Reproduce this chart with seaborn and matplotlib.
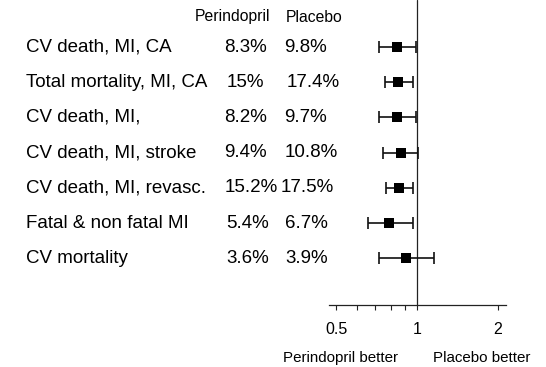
import matplotlib
matplotlib.use("Agg")
import matplotlib.pyplot as plt
import matplotlib.transforms as mtransforms
from matplotlib.ticker import FixedLocator, NullFormatter
import numpy as np
import pandas as pd
import seaborn as sns

# ---- data ----
outcomes = ["CV death, MI, CA", "Total mortality, MI, CA", "CV death, MI,",
            "CV death, MI, stroke", "CV death, MI, revasc.",
            "Fatal & non fatal MI", "CV mortality"]
perindopril_pct = ["8.3%", "15%", "8.2%", "9.4%", "15.2%", "5.4%", "3.6%"]
placebo_pct = ["9.8%", "17.4%", "9.7%", "10.8%", "17.5%", "6.7%", "3.9%"]
ratio = [0.84, 0.85, 0.84, 0.87, 0.86, 0.79, 0.91]
ci_low = [0.72, 0.76, 0.72, 0.75, 0.77, 0.66, 0.72]
ci_high = [0.99, 0.97, 0.99, 1.01, 0.97, 0.97, 1.16]
tick_values = [0.5, 1, 2]
tick_labels = ["0.5", "1", "2"]
minor_ticks = [0.6, 0.7, 0.8, 0.9]
header = ["Perindopril", "Placebo"]
side_labels = ["Perindopril better", "Placebo better"]

# ---- layout (pixel x of text columns) ----
perindopril_x = [224, 227, 224, 224, 225, 226, 226]
placebo_x = [284, 287, 284, 285, 281, 285, 285]

df = pd.DataFrame({"outcome": outcomes, "row": np.arange(len(outcomes)),
                   "ratio": ratio, "lo": ci_low, "hi": ci_high})

sns.set_theme(style="white")
plt.rcParams["font.family"] = ["Liberation Sans", "DejaVu Sans"]

W, H = 546, 367
fig = plt.figure(figsize=(W / 100, H / 100), dpi=100)
fig.patch.set_facecolor("white")

left_px, right_px, bottom_px = 329, 506, 305
ax = fig.add_axes([left_px / W, (H - bottom_px) / H, (right_px - left_px) / W, bottom_px / H])
ax.set_facecolor("none")
ax.set_xscale("log")
ax.set_xlim(2 ** (-88 / 81), 2 ** (89 / 81))
row_px0, row_step = 47, 35.2
ax.set_ylim((bottom_px - row_px0) / row_step, -row_px0 / row_step)

ax.axvline(1, color="#222222", lw=0.9, zorder=1)

ax.errorbar(df["ratio"], df["row"],
            xerr=[df["ratio"] - df["lo"], df["hi"] - df["ratio"]],
            fmt="none", ecolor="#111111", elinewidth=1.2, capsize=4, capthick=1.2, zorder=2)
sns.scatterplot(data=df, x="ratio", y="row", marker="s", s=48, color="black",
                edgecolor="black", linewidth=0, ax=ax, zorder=3, legend=False)

for s in ["top", "right", "left"]:
    ax.spines[s].set_visible(False)
ax.spines["bottom"].set_color("#222222")
ax.spines["bottom"].set_linewidth(0.9)
ax.set_yticks([])
ax.set_ylabel("")
ax.set_xlabel("")
ax.xaxis.set_major_locator(FixedLocator(tick_values))
ax.set_xticklabels(tick_labels)
ax.xaxis.set_minor_locator(FixedLocator(minor_ticks))
ax.xaxis.set_minor_formatter(NullFormatter())
ax.tick_params(axis="x", which="both", direction="out", length=3.5, width=0.8,
               color="#222222", bottom=True)
ax.tick_params(axis="x", which="major", labelsize=11.5, pad=9, labelcolor="black")

trans = mtransforms.blended_transform_factory(
    mtransforms.Affine2D().scale(1 / W, 1) + fig.transFigure, ax.transData)
for i in range(len(outcomes)):
    ax.text(26, i, outcomes[i], transform=trans, ha="left", va="center",
            fontsize=13.5, color="black", clip_on=False)
    ax.text(perindopril_x[i], i, perindopril_pct[i], transform=trans, ha="left", va="center",
            fontsize=13.5, color="black", clip_on=False)
    ax.text(placebo_x[i], i, placebo_pct[i], transform=trans, ha="left", va="center",
            fontsize=13.5, color="black", clip_on=False)

def fig_px(x, y):
    return x / W, 1 - y / H

fig.text(*fig_px(195, 17), header[0], ha="left", va="center", fontsize=11.3, color="black")
fig.text(*fig_px(286, 17), header[1], ha="left", va="center", fontsize=11.3, color="black")
fig.text(*fig_px(340.5, 358), side_labels[0], ha="center", va="center", fontsize=10.9, color="black")
fig.text(*fig_px(482, 358), side_labels[1], ha="center", va="center", fontsize=10.9, color="black")

fig.savefig("out.png", dpi=100, facecolor="white")
